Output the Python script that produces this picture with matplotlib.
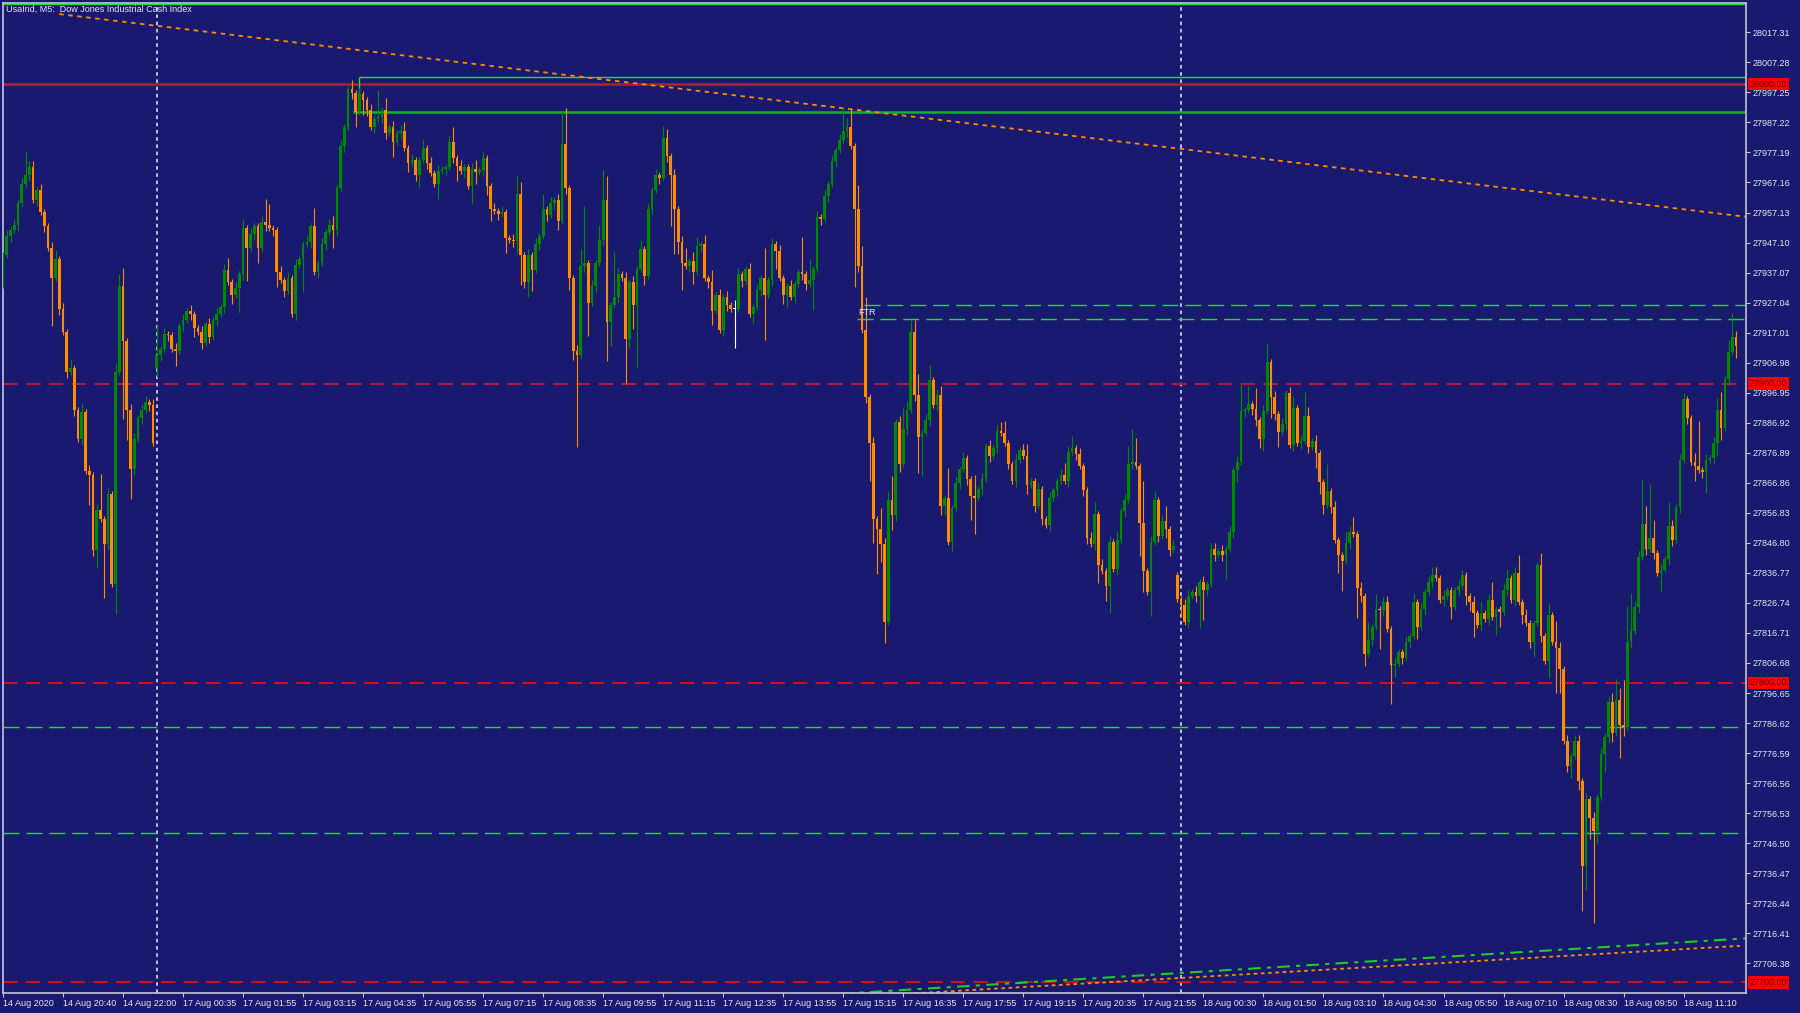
import numpy as np
import matplotlib
matplotlib.use("Agg")
import matplotlib.pyplot as plt
from matplotlib.transforms import blended_transform_factory

# ---- data: UsaInd M5 closes (one per 5-minute bar) ----
closes = [
    27942.9, 27949.3, 27951.2, 27953.1, 27960.2, 27966.5, 27969.7, 27972.3, 27961.4, 27964.6,
    27957.2, 27952.5, 27945.4, 27935.2, 27941.6, 27925.0, 27917.3, 27903.9, 27905.2, 27891.1,
    27881.5, 27890.5, 27870.7, 27869.4, 27844.5, 27857.9, 27854.7, 27846.4, 27863.0, 27833.0,
    27903.9, 27932.7, 27914.1, 27891.1, 27871.3, 27881.5, 27888.6, 27891.1, 27893.7, 27893.0,
    27880.3, 27909.7, 27911.6, 27916.7, 27916.1, 27911.6, 27911.0, 27919.3, 27921.2, 27924.4,
    27923.1, 27918.6, 27917.3, 27913.5, 27919.9, 27915.4, 27921.2, 27923.1, 27925.6, 27937.8,
    27933.9, 27929.5, 27932.0, 27936.5, 27951.8, 27945.4, 27949.9, 27952.5, 27945.4, 27953.8,
    27953.1, 27951.8, 27951.2, 27937.1, 27934.6, 27930.8, 27935.2, 27923.1, 27939.7, 27941.6,
    27946.7, 27947.4, 27952.5, 27937.1, 27940.3, 27946.7, 27950.6, 27953.1, 27951.2, 27965.3,
    27979.3, 27985.7, 27998.5, 27997.2, 27990.8, 27996.6, 27994.6, 27991.4, 27985.7, 27988.3,
    27988.9, 27991.4, 27983.8, 27985.7, 27980.6, 27983.8, 27984.5, 27978.7, 27973.8, 27974.8,
    27969.7, 27974.8, 27978.7, 27973.6, 27970.4, 27966.5, 27971.0, 27971.7, 27972.3, 27980.6,
    27975.5, 27972.5, 27971.0, 27972.3, 27965.9, 27971.7, 27970.6, 27971.3, 27975.5, 27965.9,
    27958.2, 27957.6, 27956.7, 27957.2, 27948.6, 27948.0, 27947.7, 27963.3, 27942.9, 27933.9,
    27942.9, 27938.0, 27946.7, 27949.3, 27958.2, 27956.3, 27960.2, 27961.4, 27954.4, 27979.9,
    27965.3, 27935.2, 27911.0, 27909.7, 27939.1, 27940.3, 27926.9, 27932.7, 27940.3, 27948.0,
    27961.4, 27920.5, 27926.3, 27928.8, 27936.5, 27935.2, 27914.8, 27933.9, 27926.3, 27938.4,
    27944.8, 27935.9, 27958.2, 27964.6, 27969.7, 27968.5, 27981.9, 27976.1, 27969.7, 27958.2,
    27947.4, 27940.3, 27939.1, 27941.0, 27937.1, 27946.1, 27946.7, 27935.2, 27933.9, 27924.4,
    27929.5, 27918.0, 27928.8, 27926.3, 27925.0, 27925.0, 27936.5, 27934.2, 27938.4, 27923.1,
    27925.6, 27931.4, 27935.2, 27929.5, 27934.6, 27946.7, 27944.2, 27935.2, 27929.5, 27932.7,
    27928.8, 27933.3, 27937.1, 27936.5, 27933.3, 27934.6, 27938.4, 27955.7, 27955.1, 27962.7,
    27966.5, 27974.2, 27978.0, 27981.2, 27984.5, 27985.7, 27979.3, 27958.2, 27939.1, 27918.0,
    27895.6, 27880.3, 27854.7, 27851.5, 27846.4, 27820.2, 27861.1, 27856.0, 27887.3, 27873.3,
    27884.8, 27891.1, 27917.3, 27896.2, 27882.2, 27883.5, 27887.9, 27901.3, 27893.0, 27896.2,
    27859.2, 27861.8, 27847.0, 27858.5, 27866.8, 27871.3, 27875.2, 27868.1, 27862.4, 27861.8,
    27864.9, 27868.1, 27879.0, 27875.8, 27878.4, 27884.1, 27883.5, 27880.3, 27873.3, 27867.5,
    27874.5, 27877.7, 27875.8, 27866.2, 27867.5, 27859.2, 27864.9, 27854.7, 27852.8, 27861.8,
    27864.3, 27867.5, 27869.4, 27867.5, 27877.1, 27878.4, 27876.4, 27872.6, 27864.3, 27848.3,
    27846.4, 27856.6, 27839.4, 27837.5, 27832.4, 27847.0, 27838.1, 27847.7, 27857.3, 27861.1,
    27873.3, 27873.9, 27872.6, 27853.4, 27837.5, 27830.4, 27847.0, 27861.1, 27849.0, 27854.1,
    27851.5, 27844.5, 27845.8, 27827.9, 27826.0, 27820.2, 27829.2, 27830.4, 27829.2, 27833.8,
    27831.0, 27833.1, 27844.9, 27842.8, 27844.2, 27842.8, 27844.9, 27850.4, 27871.2, 27873.9,
    27890.8, 27891.2, 27893.3, 27891.6, 27887.8, 27881.5, 27890.8, 27907.1, 27895.4, 27889.8,
    27883.9, 27886.4, 27896.8, 27879.5, 27891.9, 27880.2, 27880.8, 27889.1, 27878.8, 27880.8,
    27876.7, 27867.0, 27859.4, 27864.2, 27858.7, 27847.6, 27842.8, 27840.7, 27846.9, 27850.4,
    27849.7, 27831.7, 27828.9, 27809.6, 27814.4, 27818.6, 27824.8, 27824.5, 27826.9, 27817.9,
    27806.1, 27806.4, 27810.3, 27808.2, 27813.7, 27815.8, 27826.9, 27818.6, 27824.8, 27830.3,
    27833.8, 27835.9, 27835.2, 27827.6, 27828.9, 27831.0, 27825.5, 27831.0, 27832.4, 27835.9,
    27828.9, 27826.9, 27823.4, 27819.3, 27823.4, 27821.3, 27827.6, 27822.0, 27824.8, 27823.8,
    27831.0, 27835.2, 27827.6, 27836.6, 27826.9, 27822.7, 27819.9, 27813.7, 27819.9, 27839.3,
    27815.8, 27807.5, 27822.7, 27813.7, 27811.6, 27804.7, 27780.5, 27772.2, 27775.7, 27780.5,
    27767.4, 27739.0, 27761.1, 27754.9, 27750.7, 27761.8, 27776.4, 27781.9, 27793.7, 27783.3,
    27794.3, 27786.0, 27785.3, 27813.7, 27817.2, 27825.5, 27842.1, 27853.2, 27844.9, 27848.3,
    27843.5, 27836.6, 27837.9, 27841.4, 27852.5, 27847.6, 27858.7, 27874.6, 27894.7, 27888.5,
    27873.9, 27872.5, 27871.2, 27870.5, 27874.6, 27875.3, 27880.2, 27891.2, 27885.0, 27901.6,
    27910.6, 27915.4, 27912.7,
]
# opens that differ from the previous close (session gaps)
gap_opens = {0: 27933.9, 41: 27905.2, 313: 27836.2}

# wick length above / below the body, in points
wick_up = [
    1, 2, 1, 2, 1, 2, 8, 2, 2, 1, 2, 1, 1, 2, 3, 1, 2, 1, 3, 1,
    1, 3, 1, 2, 1, 2, 12, 1, 2, 1, 3, 4, 6, 1, 2, 2, 1, 2, 2, 1,
    2, 10, 1, 2, 1, 1, 2, 1, 2, 1, 2, 1, 1, 2, 1, 2, 1, 2, 1, 2,
    4, 1, 2, 1, 3, 1, 2, 1, 1, 2, 8, 7, 1, 1, 2, 1, 2, 1, 2, 1,
    1, 2, 1, 6, 1, 2, 1, 2, 3, 1, 2, 1, 1, 3, 1, 2, 1, 1, 2, 1,
    9, 1, 4, 1, 2, 1, 2, 3, 1, 2, 1, 1, 3, 1, 2, 1, 2, 1, 1, 2,
    5, 1, 2, 1, 1, 2, 3, 1, 2, 1, 1, 2, 1, 2, 1, 1, 2, 6, 4, 1,
    2, 1, 2, 1, 5, 1, 2, 1, 2, 11, 12, 1, 1, 2, 6, 19, 1, 2, 1, 5,
    10, 8, 1, 15, 2, 1, 2, 1, 2, 1, 3, 1, 2, 1, 2, 1, 4, 3, 1, 2,
    1, 2, 5, 1, 3, 3, 1, 3, 1, 4, 1, 2, 1, 2, 1, 3, 2, 1, 1, 2,
    1, 2, 1, 10, 1, 2, 1, 2, 1, 1, 2, 1, 1, 12, 1, 7, 1, 2, 1, 2,
    1, 2, 1, 2, 8, 3, 6, 1, 8, 7, 11, 1, 2, 1, 7, 2, 3, 8, 1, 2,
    7, 3, 4, 4, 7, 1, 2, 5, 1, 2, 3, 1, 10, 1, 2, 1, 2, 1, 1, 7,
    1, 2, 1, 2, 1, 2, 3, 4, 1, 1, 2, 1, 2, 4, 1, 1, 2, 1, 1, 2,
    1, 1, 2, 4, 2, 4, 1, 2, 1, 1, 2, 4, 1, 2, 1, 2, 1, 3, 1, 2,
    6, 11, 8, 1, 14, 1, 2, 3, 1, 2, 5, 1, 2, 1, 1, 2, 2, 1, 2, 1,
    2, 1, 2, 2, 1, 2, 1, 2, 1, 2, 9, 1, 6, 1, 7, 1, 2, 6, 1, 2,
    1, 2, 1, 2, 4, 1, 2, 8, 3, 1, 2, 1, 1, 9, 1, 2, 1, 1, 4, 2,
    5, 1, 2, 1, 6, 1, 5, 1, 2, 2, 1, 2, 1, 1, 2, 1, 3, 1, 2, 1,
    2, 3, 3, 1, 2, 1, 1, 1, 2, 2, 1, 1, 2, 1, 4, 1, 2, 6, 1, 1,
    2, 3, 1, 2, 6, 1, 2, 1, 1, 1, 4, 1, 4, 1, 7, 2, 1, 2, 1, 2,
    2, 1, 2, 1, 2, 1, 2, 1, 2, 3, 7, 4, 15, 12, 13, 2, 2, 15, 6, 18,
    6, 1, 2, 1, 8, 2, 1, 2, 2, 1, 1, 3, 15, 1, 2, 1, 2, 4, 6, 1,
    4, 8, 2,
]
wick_dn = [
    2, 1, 2, 1, 2, 1, 1, 2, 1, 2, 1, 2, 1, 16, 1, 2, 1, 2, 1, 2,
    1, 2, 1, 10, 2, 6, 1, 18, 2, 1, 10, 1, 26, 10, 10, 2, 1, 2, 1, 2,
    1, 3, 2, 1, 2, 1, 5, 1, 2, 1, 2, 3, 1, 2, 1, 2, 1, 2, 1, 2,
    1, 3, 1, 8, 2, 11, 1, 2, 5, 1, 2, 1, 2, 5, 1, 2, 1, 1, 2, 1,
    11, 1, 2, 1, 2, 1, 2, 1, 6, 2, 1, 2, 1, 2, 5, 1, 5, 2, 1, 2,
    1, 2, 2, 1, 5, 1, 2, 1, 3, 1, 2, 4, 1, 2, 1, 1, 5, 1, 2, 1,
    2, 5, 1, 2, 1, 6, 4, 1, 2, 3, 4, 1, 2, 1, 5, 1, 2, 4, 10, 2,
    5, 7, 1, 2, 1, 2, 1, 2, 3, 1, 2, 4, 3, 31, 1, 2, 11, 1, 2, 1,
    2, 13, 8, 1, 2, 1, 15, 3, 8, 21, 1, 3, 1, 2, 1, 2, 1, 2, 17, 15,
    4, 9, 1, 2, 4, 1, 2, 1, 2, 5, 1, 1, 2, 2, 1, 13, 1, 2, 1, 1,
    3, 1, 2, 15, 1, 2, 6, 1, 3, 4, 1, 2, 1, 2, 2, 1, 10, 1, 2, 1,
    2, 1, 2, 1, 1, 2, 1, 26, 2, 1, 2, 13, 8, 15, 6, 7, 1, 5, 2, 3,
    1, 2, 1, 2, 12, 13, 1, 2, 1, 2, 3, 3, 1, 3, 1, 2, 1, 2, 8, 12,
    1, 2, 1, 2, 1, 2, 1, 1, 2, 1, 2, 1, 1, 3, 1, 2, 1, 2, 1, 2,
    1, 2, 1, 1, 2, 1, 2, 1, 2, 2, 1, 2, 6, 1, 5, 9, 1, 2, 1, 2,
    1, 2, 1, 11, 7, 1, 8, 1, 2, 1, 3, 2, 1, 1, 4, 1, 2, 1, 2, 11,
    10, 2, 1, 2, 1, 2, 8, 1, 2, 4, 1, 2, 1, 2, 2, 3, 4, 1, 7, 2,
    5, 1, 2, 1, 2, 1, 2, 1, 2, 1, 5, 4, 3, 1, 2, 1, 6, 10, 1, 2,
    1, 10, 2, 4, 1, 2, 1, 13, 2, 1, 13, 4, 1, 2, 1, 2, 1, 4, 1, 2,
    1, 2, 1, 1, 2, 1, 4, 1, 2, 1, 3, 3, 8, 1, 2, 1, 2, 1, 6, 5,
    1, 2, 1, 2, 1, 3, 1, 2, 5, 1, 2, 1, 6, 1, 15, 8, 1, 2, 4, 1,
    3, 15, 8, 7, 31, 4, 1, 6, 2, 3, 1, 11, 3, 1, 2, 1, 2, 1, 2, 1,
    2, 1, 6, 1, 2, 2, 1, 2, 1, 2, 1, 5, 1, 2, 7, 1, 2, 4, 4, 1,
    2, 1, 4,
]

time_labels = [
    "14 Aug 2020", "14 Aug 20:40", "14 Aug 22:00", "17 Aug 00:35", "17 Aug 01:55",
    "17 Aug 03:15", "17 Aug 04:35", "17 Aug 05:55", "17 Aug 07:15", "17 Aug 08:35",
    "17 Aug 09:55", "17 Aug 11:15", "17 Aug 12:35", "17 Aug 13:55", "17 Aug 15:15",
    "17 Aug 16:35", "17 Aug 17:55", "17 Aug 19:15", "17 Aug 20:35", "17 Aug 21:55",
    "18 Aug 00:30", "18 Aug 01:50", "18 Aug 03:10", "18 Aug 04:30", "18 Aug 05:50",
    "18 Aug 07:10", "18 Aug 08:30", "18 Aug 09:50", "18 Aug 11:10",
]
bars_per_label = 16
day_starts = [41, 314]

price_ticks = [
    28017.31, 28007.28, 27997.25, 27987.22, 27977.19, 27967.16, 27957.13, 27947.10,
    27937.07, 27927.04, 27917.01, 27906.98, 27896.95, 27886.92, 27876.89, 27866.86,
    27856.83, 27846.80, 27836.77, 27826.74, 27816.71, 27806.68, 27796.65, 27786.62,
    27776.59, 27766.56, 27756.53, 27746.50, 27736.47, 27726.44, 27716.41, 27706.38,
]
round_levels = [28000.0, 27900.0, 27800.0, 27700.0]
zone_lines = [(94.9, 28002.55), (93.4, 27990.8)]      # (start bar, price)
ftr_lines = [(229.6, 27926.3), (227.7, 27921.4)]
support_lines = [27785.2, 27749.8]
top_line = 28026.8
trend_top = ([15.0, 464.6], [28023.4, 27955.7])
trend_low_green = ([200.0, 464.6], [27694.4, 27714.7])
trend_low_orange = ([220.0, 463.0], [27694.7, 27712.2])

# ---- style ----
BG = "#191970"
BULL = "#008a00"
BEAR = "#ff8c00"
TXT = "#e6e6ee"
AXC = "#c4c4d4"
plt.rcParams["font.family"] = ["Liberation Sans", "DejaVu Sans"]

fig = plt.figure(figsize=(18, 10.13), dpi=100, facecolor=BG)
ax = fig.add_axes([3 / 1800, 20 / 1013, 1743 / 1800, 990 / 1013])
ax.set_facecolor(BG)

c = np.array(closes)
o = np.concatenate([[c[0]], c[:-1]])
for i, v in gap_opens.items():
    o[i] = v
x = np.arange(len(c))
top = np.maximum(o, c)
bot = np.minimum(o, c)
hi = top + np.array(wick_up)
lo = bot - np.array(wick_dn)
cols = np.where(c > o, BULL, np.where(c < o, BEAR, "#ffffff"))

ax.vlines(x, lo, hi, colors=cols, lw=0.8, zorder=3)
ax.bar(x, np.maximum(top - bot, 0.35), bottom=bot, width=0.72,
       color=cols, linewidth=0, zorder=4)

# horizontal levels
ax.axhline(round_levels[0], color="#b0183c", lw=2.0, zorder=2)
ax.axhline(round_levels[1], color="#b0183c", lw=1.5, dashes=(7, 4), zorder=2)
for lv in round_levels[2:]:
    ax.axhline(lv, color="#e01010", lw=1.3, dashes=(8, 4.5), zorder=2)
ax.axhline(top_line, color="#22dd22", lw=1.0, zorder=2)

xmax = (1746 - 2.7) / 3.752
ax.hlines(zone_lines[0][1], zone_lines[0][0], xmax, color="#22e022", lw=1.0, zorder=2)
ax.hlines(zone_lines[1][1], zone_lines[1][0], xmax, color="#10b030", lw=1.8, zorder=2)
ax.vlines(zone_lines[0][0], zone_lines[1][1], zone_lines[0][1], color="#22e022", lw=1.0, zorder=2)
for b, p in ftr_lines:
    ax.hlines(p, b, xmax, color="#22dd22", lw=1.0, linestyles=(0, (11.5, 5)), zorder=2)
ax.text(ftr_lines[1][0] + 0.3, (ftr_lines[0][1] + ftr_lines[1][1]) / 2, "FTR",
        color=TXT, fontsize=6.5, va="center", ha="left", zorder=6)
for p in support_lines:
    ax.axhline(p, color="#22dd22", lw=1.0, dashes=(11.5, 5), zorder=2)

ax.plot(*trend_top, color=BEAR, lw=1.3, dashes=(2.5, 2.5), zorder=2)
ax.plot(*trend_low_green, color="#22cc22", lw=1.5, dashes=(6, 3, 2, 3), zorder=2)
ax.plot(*trend_low_orange, color=BEAR, lw=1.3, dashes=(2, 2), zorder=2)

for d in day_starts:
    ax.axvline(d, color="#c8cce8", lw=1.3, dashes=(2, 2), zorder=1)

ax.set_xlim((3 - 2.7) / 3.752, xmax)
ax.set_ylim(27696.46, 28027.10)

# axes
for s in ax.spines.values():
    s.set_color(AXC)
    s.set_linewidth(1.2)
ax.yaxis.tick_right()
ax.set_yticks(price_ticks)
ax.set_yticklabels([f"{v:.2f}" for v in price_ticks])
ax.set_xticks(np.arange(len(time_labels)) * bars_per_label)
ax.set_xticklabels(time_labels)
for lab in ax.get_xticklabels():
    lab.set_horizontalalignment("left")
ax.tick_params(colors=AXC, labelcolor=TXT, labelsize=6.5, length=3, width=0.8, pad=1.5)

trans = blended_transform_factory(ax.transAxes, ax.transData)
for lv in round_levels:
    ax.text(1.0022, lv, f"{lv:.2f}", transform=trans, ha="left", va="center",
            fontsize=6.5, color="#6a0000", zorder=7, clip_on=False,
            bbox=dict(boxstyle="square,pad=0.18", fc="#ff0000", ec="none"))

fig.text(6 / 1800, 1 - 9 / 1013, "UsaInd, M5:  Dow Jones Industrial Cash Index",
         color=TXT, fontsize=6.5, ha="left", va="center")

fig.savefig("out.png", dpi=100, facecolor=BG)
